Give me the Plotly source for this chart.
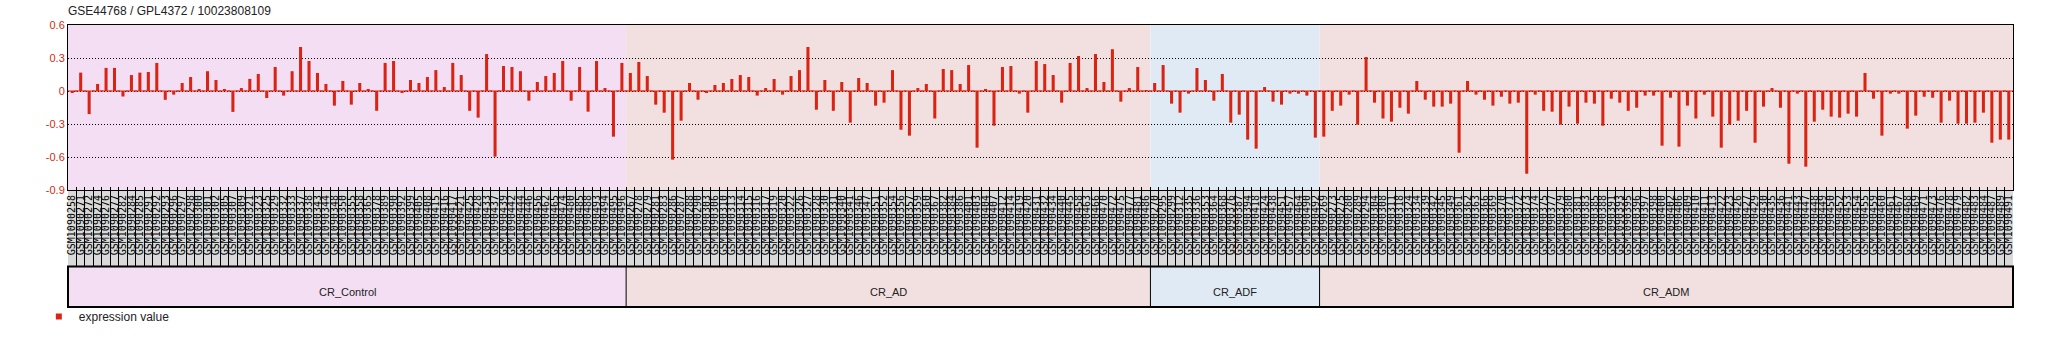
import plotly.graph_objects as go

# ---------------- data ----------------
title_text = "GSE44768 / GPL4372 / 10023808109"
group_names = ["CR_Control", "CR_AD", "CR_ADF", "CR_ADM"]

samples_control = ["GSM1090258","GSM1090271","GSM1090272","GSM1090274","GSM1090276","GSM1090277","GSM1090282","GSM1090284","GSM1090285","GSM1090291",
                   "GSM1090292","GSM1090293","GSM1090296","GSM1090297","GSM1090298","GSM1090300","GSM1090301","GSM1090302","GSM1090305","GSM1090307",
                   "GSM1090309","GSM1090321","GSM1090323","GSM1090325","GSM1090329","GSM1090332","GSM1090333","GSM1090337","GSM1090338","GSM1090343",
                   "GSM1090344","GSM1090348","GSM1090350","GSM1090355","GSM1090358","GSM1090365","GSM1090378","GSM1090389","GSM1090390","GSM1090392",
                   "GSM1090399","GSM1090405","GSM1090408","GSM1090415","GSM1090416","GSM1090417","GSM1090421","GSM1090425","GSM1090428","GSM1090433",
                   "GSM1090437","GSM1090439","GSM1090442","GSM1090444","GSM1090446","GSM1090456","GSM1090462","GSM1090465","GSM1090474","GSM1090480",
                   "GSM1090485","GSM1090488","GSM1090493","GSM1090494","GSM1090495","GSM1090496"]
values_control = [-0.015, 0.167, -0.21, 0.064, 0.21, 0.21, -0.05, 0.145, 0.167, 0.173,
                  0.255, -0.08, -0.033, 0.073, 0.127, 0.018, 0.18, 0.10, 0.018, -0.19,
                  0.027, 0.11, 0.155, -0.064, 0.218, -0.042, 0.18, 0.40, 0.273, 0.164,
                  0.064, -0.133, 0.091, -0.124, 0.073, 0.018, -0.18, 0.255, 0.273, -0.018,
                  0.10, 0.073, 0.127, 0.19, 0.036, 0.255, 0.145, -0.18, -0.242, 0.336,
                  -0.597, 0.227, 0.218, 0.18, -0.088, 0.082, 0.136, 0.164, 0.273, -0.088,
                  0.218, -0.188, 0.273, 0.027, -0.415, 0.255]

samples_ad = ["GSM1090267","GSM1090278","GSM1090279","GSM1090281","GSM1090283","GSM1090286","GSM1090287","GSM1090288","GSM1090290","GSM1090303",
              "GSM1090306","GSM1090310","GSM1090313","GSM1090314","GSM1090315","GSM1090316","GSM1090317","GSM1090319","GSM1090320","GSM1090322",
              "GSM1090326","GSM1090327","GSM1090328","GSM1090330","GSM1090331","GSM1090340","GSM1090341","GSM1090346","GSM1090347","GSM1090351",
              "GSM1090352","GSM1090354","GSM1090356","GSM1090357","GSM1090359","GSM1090360","GSM1090367","GSM1090382","GSM1090384","GSM1090386",
              "GSM1090401","GSM1090403","GSM1090404","GSM1090407","GSM1090412","GSM1090414","GSM1090419","GSM1090420","GSM1090431","GSM1090432",
              "GSM1090434","GSM1090440","GSM1090445","GSM1090458","GSM1090463","GSM1090466","GSM1090470","GSM1090472","GSM1090475","GSM1090477",
              "GSM1090481","GSM1090486"]
values_ad = [0.164, 0.264, 0.136, -0.124, -0.197, -0.624, -0.27, 0.073, -0.079, -0.015,
             0.055, 0.073, 0.109, 0.145, 0.127, -0.042, 0.027, 0.109, -0.033, 0.136,
             0.19, 0.40, -0.17, 0.10, -0.18, 0.082, -0.288, 0.118, 0.073, -0.133,
             -0.106, 0.19, -0.352, -0.406, 0.027, 0.064, -0.25, 0.20, 0.19, 0.064,
             0.236, -0.515, 0.018, -0.315, 0.218, 0.227, -0.024, -0.197, 0.273, 0.245,
             0.145, -0.106, 0.255, 0.318, 0.027, 0.336, 0.082, 0.38, -0.097, 0.027,
             0.218, 0.009]

samples_adf = ["GSM1090270","GSM1090295","GSM1090299","GSM1090312","GSM1090335","GSM1090336","GSM1090353","GSM1090364","GSM1090368","GSM1090376",
               "GSM1090387","GSM1090394","GSM1090418","GSM1090424","GSM1090438","GSM1090451","GSM1090457","GSM1090464","GSM1090490","GSM1090492"]
values_adf = [0.073, 0.236, -0.115, -0.197, -0.024, 0.209, 0.10, -0.088, 0.155, -0.288,
              -0.215, -0.442, -0.524, 0.036, -0.097, -0.124, -0.024, -0.024, -0.042, -0.424]

samples_adm = ["GSM1090269","GSM1090273","GSM1090275","GSM1090280","GSM1090289","GSM1090294","GSM1090304","GSM1090308","GSM1090311","GSM1090318",
               "GSM1090324","GSM1090334","GSM1090339","GSM1090342","GSM1090345","GSM1090349","GSM1090361","GSM1090362","GSM1090363","GSM1090366",
               "GSM1090369","GSM1090370","GSM1090371","GSM1090372","GSM1090373","GSM1090374","GSM1090375","GSM1090377","GSM1090379","GSM1090380",
               "GSM1090381","GSM1090383","GSM1090385","GSM1090388","GSM1090391","GSM1090393","GSM1090395","GSM1090396","GSM1090397","GSM1090398",
               "GSM1090400","GSM1090402","GSM1090406","GSM1090409","GSM1090410","GSM1090411","GSM1090413","GSM1090422","GSM1090423","GSM1090426",
               "GSM1090427","GSM1090429","GSM1090430","GSM1090435","GSM1090436","GSM1090441","GSM1090443","GSM1090447","GSM1090448","GSM1090449",
               "GSM1090450","GSM1090452","GSM1090453","GSM1090454","GSM1090455","GSM1090459","GSM1090460","GSM1090461","GSM1090467","GSM1090468",
               "GSM1090469","GSM1090471","GSM1090473","GSM1090476","GSM1090478","GSM1090479","GSM1090482","GSM1090483","GSM1090484","GSM1090487",
               "GSM1090489","GSM1090491"]
values_adm = [-0.415, -0.18, -0.133, -0.033, -0.306, 0.309, -0.106, -0.25, -0.279, -0.152,
              -0.206, 0.091, -0.079, -0.142, -0.142, -0.115, -0.561, 0.091, -0.033, -0.079,
              -0.133, -0.052, -0.115, -0.106, -0.752, -0.033, -0.18, -0.188, -0.306, -0.142,
              -0.297, -0.106, -0.115, -0.315, -0.07, -0.106, -0.18, -0.152, -0.042, -0.042,
              -0.497, -0.061, -0.506, -0.133, -0.25, -0.033, -0.233, -0.515, -0.306, -0.27,
              -0.18, -0.47, -0.142, 0.027, -0.152, -0.661, -0.024, -0.688, -0.279, -0.17,
              -0.233, -0.242, -0.206, -0.233, 0.164, -0.07, -0.406, -0.024, -0.024, -0.342,
              -0.224, -0.052, -0.061, -0.288, -0.088, -0.297, -0.297, -0.288, -0.197, -0.47,
              -0.442, -0.442]

y_tick_vals = [0.6, 0.3, 0, -0.3, -0.6, -0.9]
y_tick_text = ["0.6", "0.3", "0", "-0.3", "-0.6", "-0.9"]
legend_label = "expression value"

# ---------------- styling ----------------
RED = "#DA2312"
TICK_RED = "#D42A14"
group_colors = ["#F4DEF3", "#F2E0E0", "#E0EAF4", "#F2E0E0"]

samples_by_group = [samples_control, samples_ad, samples_adf, samples_adm]
values_by_group = [values_control, values_ad, values_adf, values_adm]
samples = [s for g in samples_by_group for s in g]
values = [v for g in values_by_group for v in g]
n = len(samples)

W, H = 2048, 352
ML, MR, MT, MB = 68, 35, 25, 45
ph = H - MT - MB
y_main_bottom = 190
y_label_bottom = 266.5
main_dom = [(H - MB - y_main_bottom) / ph, 1.0]
label_dom = [(H - MB - y_label_bottom) / ph, main_dom[0]]
group_dom = [0.0, label_dom[0]]
group_text_y = (H - MB - 292) / ph

fig = go.Figure()
fig.add_trace(go.Bar(x=samples, y=values, marker=dict(color=RED, line=dict(width=0)),
                     width=0.36, showlegend=False, xaxis="x", yaxis="y", hoverinfo="x+y"))
fig.add_trace(go.Scatter(x=samples, y=[0] * n, mode="markers",
                         marker=dict(symbol="line-ew", size=8, line=dict(color=RED, width=1)),
                         showlegend=False, hoverinfo="skip", xaxis="x", yaxis="y"))
fig.add_trace(go.Scatter(x=samples, y=[None] * n, mode="markers", showlegend=False,
                         hoverinfo="skip", xaxis="x2", yaxis="y2"))
fig.add_trace(go.Scatter(x=[samples[0]], y=[None], mode="markers", name=legend_label,
                         marker=dict(symbol="square", size=6, color=RED),
                         xaxis="x", yaxis="y", hoverinfo="skip"))

shapes = []
annotations = []
start = 0
for name, g, col in zip(group_names, samples_by_group, group_colors):
    end = start + len(g) - 1
    for dom in (main_dom, group_dom):
        shapes.append(dict(type="rect", xref="x", yref="paper", x0=start - 0.5, x1=end + 0.5,
                           y0=dom[0], y1=dom[1], fillcolor=col, line=dict(width=0), layer="below"))
    if start > 0:
        shapes.append(dict(type="line", xref="x", yref="paper", x0=start - 0.5, x1=start - 0.5,
                           y0=group_dom[0], y1=group_dom[1], line=dict(color="black", width=1)))
    annotations.append(dict(text=name, xref="x", yref="paper", x=(start + end) / 2,
                            y=group_text_y, yanchor="middle", showarrow=False,
                            font=dict(family="Liberation Sans, Arial", size=11, color="#222")))
    start = end + 1

shapes.append(dict(type="rect", xref="paper", yref="paper", x0=0, x1=1, y0=label_dom[0], y1=label_dom[1],
                   fillcolor="#D9D9D9", line=dict(width=0), layer="below"))
shapes.append(dict(type="rect", xref="paper", yref="paper", x0=0, x1=1, y0=group_dom[0], y1=group_dom[1],
                   fillcolor="rgba(0,0,0,0)", line=dict(color="black", width=2), layer="above"))

fig.update_layout(
    width=W, height=H,
    margin=dict(l=ML, r=MR, t=MT, b=MB, pad=0),
    paper_bgcolor="white", plot_bgcolor="rgba(0,0,0,0)",
    title=dict(text=title_text, x=ML / W, xanchor="left", xref="container",
               y=1 - 11 / H, yanchor="middle", yref="container",
               font=dict(family="Liberation Sans, Arial", size=12, color="#222")),
    xaxis=dict(type="category", categoryorder="array", categoryarray=samples,
               range=[-0.5, n - 0.5], domain=[0, 1], anchor="y",
               tickmode="linear", tick0=0, dtick=1,
               tickangle=-90, tickfont=dict(family="DejaVu Sans Mono", size=10, color="black"),
               ticks="inside", tickson="boundaries", ticklen=3, tickcolor="black",
               showline=True, linecolor="black", linewidth=1, mirror=True, showgrid=False,
               fixedrange=True),
    yaxis=dict(domain=main_dom, range=[-0.9, 0.6], anchor="x",
               tickvals=y_tick_vals, ticktext=y_tick_text,
               tickfont=dict(family="Liberation Sans, Arial", size=11, color=TICK_RED),
               showgrid=True, gridcolor="black", gridwidth=1, griddash="1px,2px",
               zeroline=False, showline=True, linecolor="black", linewidth=1, mirror=True,
               ticks="", fixedrange=True),
    xaxis2=dict(matches="x", anchor="y2", domain=[0, 1], showticklabels=False,
                tickmode="linear", tick0=0, dtick=1,
                tickson="boundaries", showgrid=True, gridcolor="black", gridwidth=1,
                ticks="", showline=False, zeroline=False),
    yaxis2=dict(domain=label_dom, range=[0, 1], anchor="x2", showticklabels=False,
                showgrid=False, zeroline=False, ticks="", showline=False),
    showlegend=True,
    legend=dict(x=-0.015, xanchor="left", y=-0.034, yanchor="middle", orientation="h",
                font=dict(family="Liberation Sans, Arial", size=12, color="#222"),
                bgcolor="rgba(0,0,0,0)"),
    shapes=shapes, annotations=annotations,
)

fig.write_html("out.html")
